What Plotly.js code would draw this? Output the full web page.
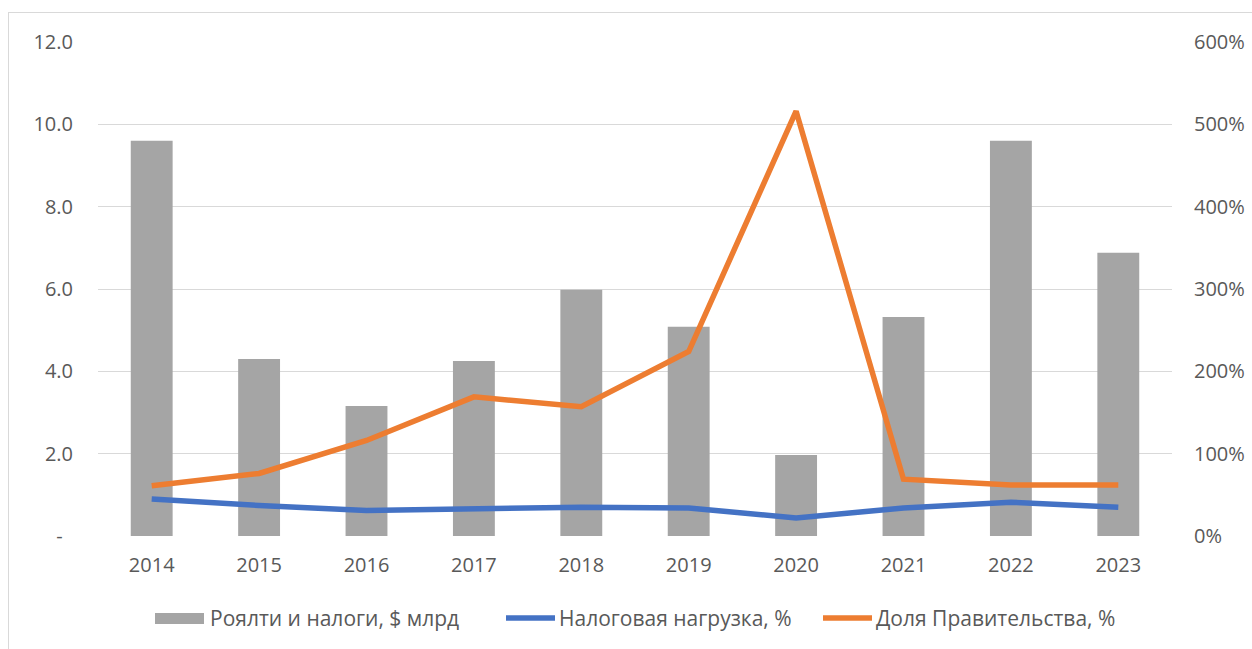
<!DOCTYPE html>
<html>
<head>
<meta charset="utf-8">
<script src="https://cdn.plot.ly/plotly-3.0.1.min.js"></script>
<style>
html,body{margin:0;padding:0;background:#fff;overflow:hidden;}
#frame{position:absolute;left:8px;top:12px;width:1260px;height:660px;border:1px solid #d9d9d9;box-sizing:border-box;}
#chart{position:absolute;left:0;top:0;width:1252px;height:649px;}
</style>
</head>
<body>
<div id="frame"></div>
<div id="chart"></div>
<script>
const years = ['2014','2015','2016','2017','2018','2019','2020','2021','2022','2023'];
const royalties = [9.6, 4.3, 3.16, 4.25, 5.98, 5.08, 1.97, 5.32, 9.6, 6.88];
const taxBurden = [45, 37, 31, 33, 35, 34, 22, 34, 41, 35];
const govShare = [61, 76, 116, 169, 157, 224, 516, 69, 62, 62];
const seriesNames = ['Роялти и налоги, $ млрд', 'Налоговая нагрузка, %', 'Доля Правительства, %'];
const leftTicks = [0, 2, 4, 6, 8, 10, 12];
const leftTickText = ['-\u00a0\u00a0', '2.0', '4.0', '6.0', '8.0', '10.0', '12.0'];

const colors = {bar: '#a5a5a5', blue: '#4472c4', orange: '#ed7d31'};
const fontFam = '"Open Sans", "Segoe UI", sans-serif';
const tickFont = {family: fontFam, size: 20, color: '#595959'};

// plot area in pixels (for placing the hand-drawn legend)
const W = 1252, H = 649, L = 98, R = 80, T = 42, B = 113;
const pw = W - L - R, ph = H - T - B;
const px = x => (x - L) / pw;
const py = y => (H - B - y) / ph;

const data = [
  {type: 'bar', x: years, y: royalties, name: seriesNames[0],
   marker: {color: colors.bar}, yaxis: 'y'},
  {type: 'scatter', mode: 'lines', x: years, y: taxBurden, name: seriesNames[1],
   line: {color: colors.blue, width: 5.5}, yaxis: 'y2'},
  {type: 'scatter', mode: 'lines', x: years, y: govShare, name: seriesNames[2],
   line: {color: colors.orange, width: 5.5}, yaxis: 'y2'}
];

const legY = 618;
const shapes = [
  {type: 'rect', xref: 'paper', yref: 'paper', x0: px(155), x1: px(204), y0: py(624), y1: py(613),
   fillcolor: colors.bar, line: {width: 0}},
  {type: 'line', xref: 'paper', yref: 'paper', x0: px(506), x1: px(555), y0: py(legY), y1: py(legY),
   line: {color: colors.blue, width: 5.5}},
  {type: 'line', xref: 'paper', yref: 'paper', x0: px(823), x1: px(872), y0: py(legY), y1: py(legY),
   line: {color: colors.orange, width: 5.5}}
];
const legFont = {family: fontFam, size: 21, color: '#595959'};
const annotations = [
  {xref: 'paper', yref: 'paper', x: px(208), y: py(legY), xanchor: 'left', yanchor: 'middle',
   text: seriesNames[0], showarrow: false, font: legFont},
  {xref: 'paper', yref: 'paper', x: px(557), y: py(legY), xanchor: 'left', yanchor: 'middle',
   text: seriesNames[1], showarrow: false, font: legFont},
  {xref: 'paper', yref: 'paper', x: px(874), y: py(legY), xanchor: 'left', yanchor: 'middle',
   text: seriesNames[2], showarrow: false, font: legFont}
];

const layout = {
  width: W, height: H,
  paper_bgcolor: 'rgba(0,0,0,0)', plot_bgcolor: 'rgba(0,0,0,0)',
  margin: {l: L, r: R, t: T, b: B},
  bargap: 0.61,
  showlegend: false,
  shapes: shapes,
  annotations: annotations,
  xaxis: {type: 'category', showgrid: false, zeroline: false, showline: false,
          ticks: '', tickfont: tickFont, ticklabelstandoff: 15},
  yaxis: {range: [0, 12], tickvals: leftTicks, ticktext: leftTickText,
          showgrid: true, gridcolor: '#d9d9d9', gridwidth: 1, zeroline: false,
          showline: false, ticks: '', tickfont: tickFont, ticklabelstandoff: 24},
  yaxis2: {range: [0, 600], dtick: 100, ticksuffix: '%', overlaying: 'y', side: 'right',
           showgrid: false, zeroline: false, showline: false, ticks: '',
           tickfont: tickFont, ticklabelstandoff: 21}
};

Plotly.newPlot('chart', data, layout, {displayModeBar: false, staticPlot: true});
</script>
</body>
</html>
